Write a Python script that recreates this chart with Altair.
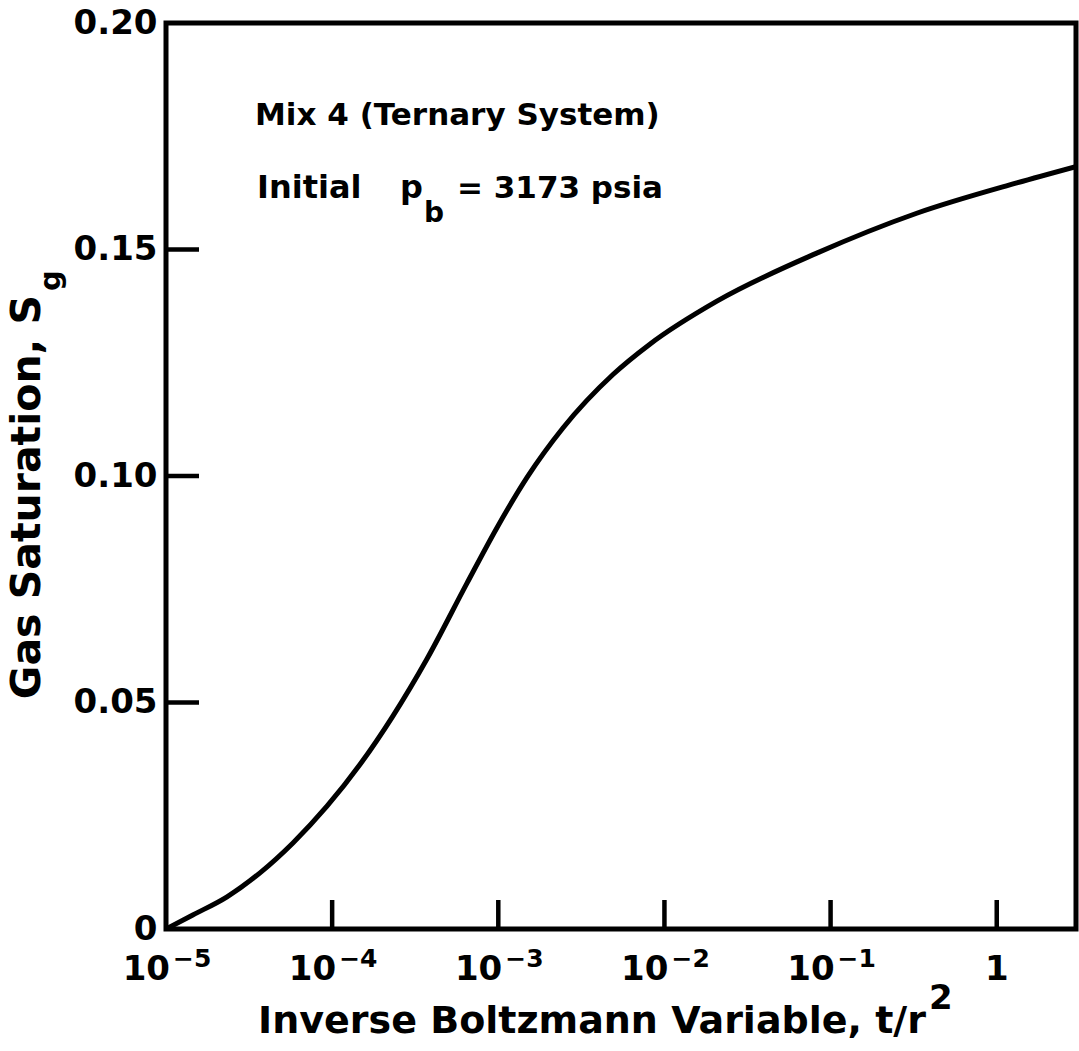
import altair as alt
import pandas as pd

# Inverse Boltzmann variable t/r^2 and the gas saturation along the curve
t_over_r2 = [1.0e-5, 1.45e-5, 2.33e-5, 3.68e-5, 5.81e-5, 9.31e-5, 1.47e-4, 2.32e-4,
             3.72e-4, 6.47e-4, 9.82e-4, 1.49e-3, 2.45e-3, 4.90e-3, 8.17e-3,
             2.07e-2, 8.26e-2, 0.330, 1.32, 2.99]
gas_saturation = [0.0, 0.0031, 0.0071, 0.0124, 0.0190, 0.0271, 0.0363, 0.0470,
                  0.0596, 0.0763, 0.0886, 0.0997, 0.1106, 0.1224, 0.1291,
                  0.1386, 0.1492, 0.1580, 0.1647, 0.1683]

# x axis: decades written as a base with a raised exponent
x_tick_values = [1e-5, 1e-4, 1e-3, 1e-2, 1e-1, 1]
x_tick_bases = ["10", "10", "10", "10", "10", "1"]
x_tick_exponents = ["−5", "−4", "−3", "−2", "−1", ""]
y_tick_values = [0, 0.05, 0.10, 0.15, 0.20]
y_tick_labels = ["0", "0.05", "0.10", "0.15", "0.20"]

W, H = 910, 906
FONT = "DejaVu Sans"

curve = pd.DataFrame({"t": t_over_r2, "sg": gas_saturation})
x_inner = pd.DataFrame({"t": x_tick_values[1:]})
y_inner = pd.DataFrame({"sg": y_tick_values[1:-1]})
x_labels = pd.DataFrame({"t": x_tick_values, "base": x_tick_bases, "exp": x_tick_exponents})
power_labels = x_labels[x_labels["exp"] != ""]
unit_labels = x_labels[x_labels["exp"] == ""]

xscale = alt.Scale(type="log", domain=[1e-5, 3], nice=False)
yscale = alt.Scale(domain=[0, 0.2], nice=False, zero=True)


def label_expr(values, labels):
    # chained conditionals picking the label of the matching tick value
    expr = f"'{labels[-1]}'"
    for v, s in reversed(list(zip(values[:-1], labels[:-1]))):
        expr = f"(abs(datum.value - {v}) < {v} * 0.01 + 1e-9 ? '{s}' : {expr})"
    return expr


x_axis = alt.Axis(values=x_tick_values, labels=False, title=None, grid=False,
                  domain=False, ticks=False, tickSize=0)
y_axis = alt.Axis(values=y_tick_values, labelExpr=label_expr(y_tick_values, y_tick_labels),
                  title=None, grid=False, domain=False, ticks=False, tickSize=0,
                  labelFont=FONT, labelFontWeight="bold", labelFontSize=34,
                  labelColor="black", labelPadding=9, labelAlign="right",
                  labelBaseline="middle", labelFlush=False, labelOverlap=False)

line = alt.Chart(curve).mark_line(color="black", strokeWidth=5, interpolate="monotone",
                                  clip=True).encode(
    x=alt.X("t:Q", scale=xscale, axis=x_axis),
    y=alt.Y("sg:Q", scale=yscale, axis=y_axis),
)

# inward-pointing tick marks
y_ticks = alt.Chart(y_inner).mark_rule(color="black", strokeWidth=4.5).encode(
    y=alt.Y("sg:Q", scale=yscale, axis=y_axis),
    x=alt.value(0), x2=alt.value(33),
)
x_ticks = alt.Chart(x_inner).mark_rule(color="black", strokeWidth=4.5).encode(
    x=alt.X("t:Q", scale=xscale, axis=x_axis),
    y=alt.value(H), y2=alt.value(H - 29),
)

# x tick labels: "10" right of the tick, exponent raised beside it
base_text = alt.Chart(power_labels).mark_text(
    font=FONT, fontWeight="bold", fontSize=34, color="black",
    align="right", baseline="alphabetic", dx=4).encode(
    x=alt.X("t:Q", scale=xscale, axis=x_axis), y=alt.value(H + 51), text="base:N")
exp_text = alt.Chart(power_labels).mark_text(
    font=FONT, fontWeight="bold", fontSize=25, color="black",
    align="left", baseline="alphabetic", dx=7).encode(
    x=alt.X("t:Q", scale=xscale, axis=x_axis), y=alt.value(H + 38), text="exp:N")
unit_text = alt.Chart(unit_labels).mark_text(
    font=FONT, fontWeight="bold", fontSize=34, color="black",
    align="center", baseline="alphabetic").encode(
    x=alt.X("t:Q", scale=xscale, axis=x_axis), y=alt.value(H + 51), text="base:N")


def label(text, x, y, size, align="left", angle=0, baseline="alphabetic"):
    props = dict(text=text, font=FONT, fontWeight="bold", fontSize=size,
                 color="black", align=align, baseline=baseline)
    if angle:
        props["angle"] = angle
    return alt.Chart(alt.Data(values=[{}])).mark_text(**props).encode(
        x=alt.value(x), y=alt.value(y))


texts = [
    label("Mix 4 (Ternary System)", 89, 102, 31),
    label("Initial", 91, 175, 32),
    label("p", 234, 175, 32),
    label("b", 258, 199, 28),
    label("= 3173 psia", 291, 175, 31),
    label("Gas Saturation, S", -126, 272, 41, align="right", angle=270),
    label("g", -106, 268, 29, align="left", angle=270),
    label("Inverse Boltzmann Variable, t/r", 760, 1010, 38, align="right"),
    label("2", 763, 986, 34),
]

chart = alt.layer(line, y_ticks, x_ticks, base_text, exp_text, unit_text, *texts).properties(
    width=W, height=H,
    autosize=alt.AutoSizeParams(type="none"),
    padding={"left": 166, "top": 23, "right": 3, "bottom": 122},
    background="white",
).configure_view(stroke="black", strokeWidth=5)

chart.save("out.html", embed_options={"renderer": "svg", "actions": False})
